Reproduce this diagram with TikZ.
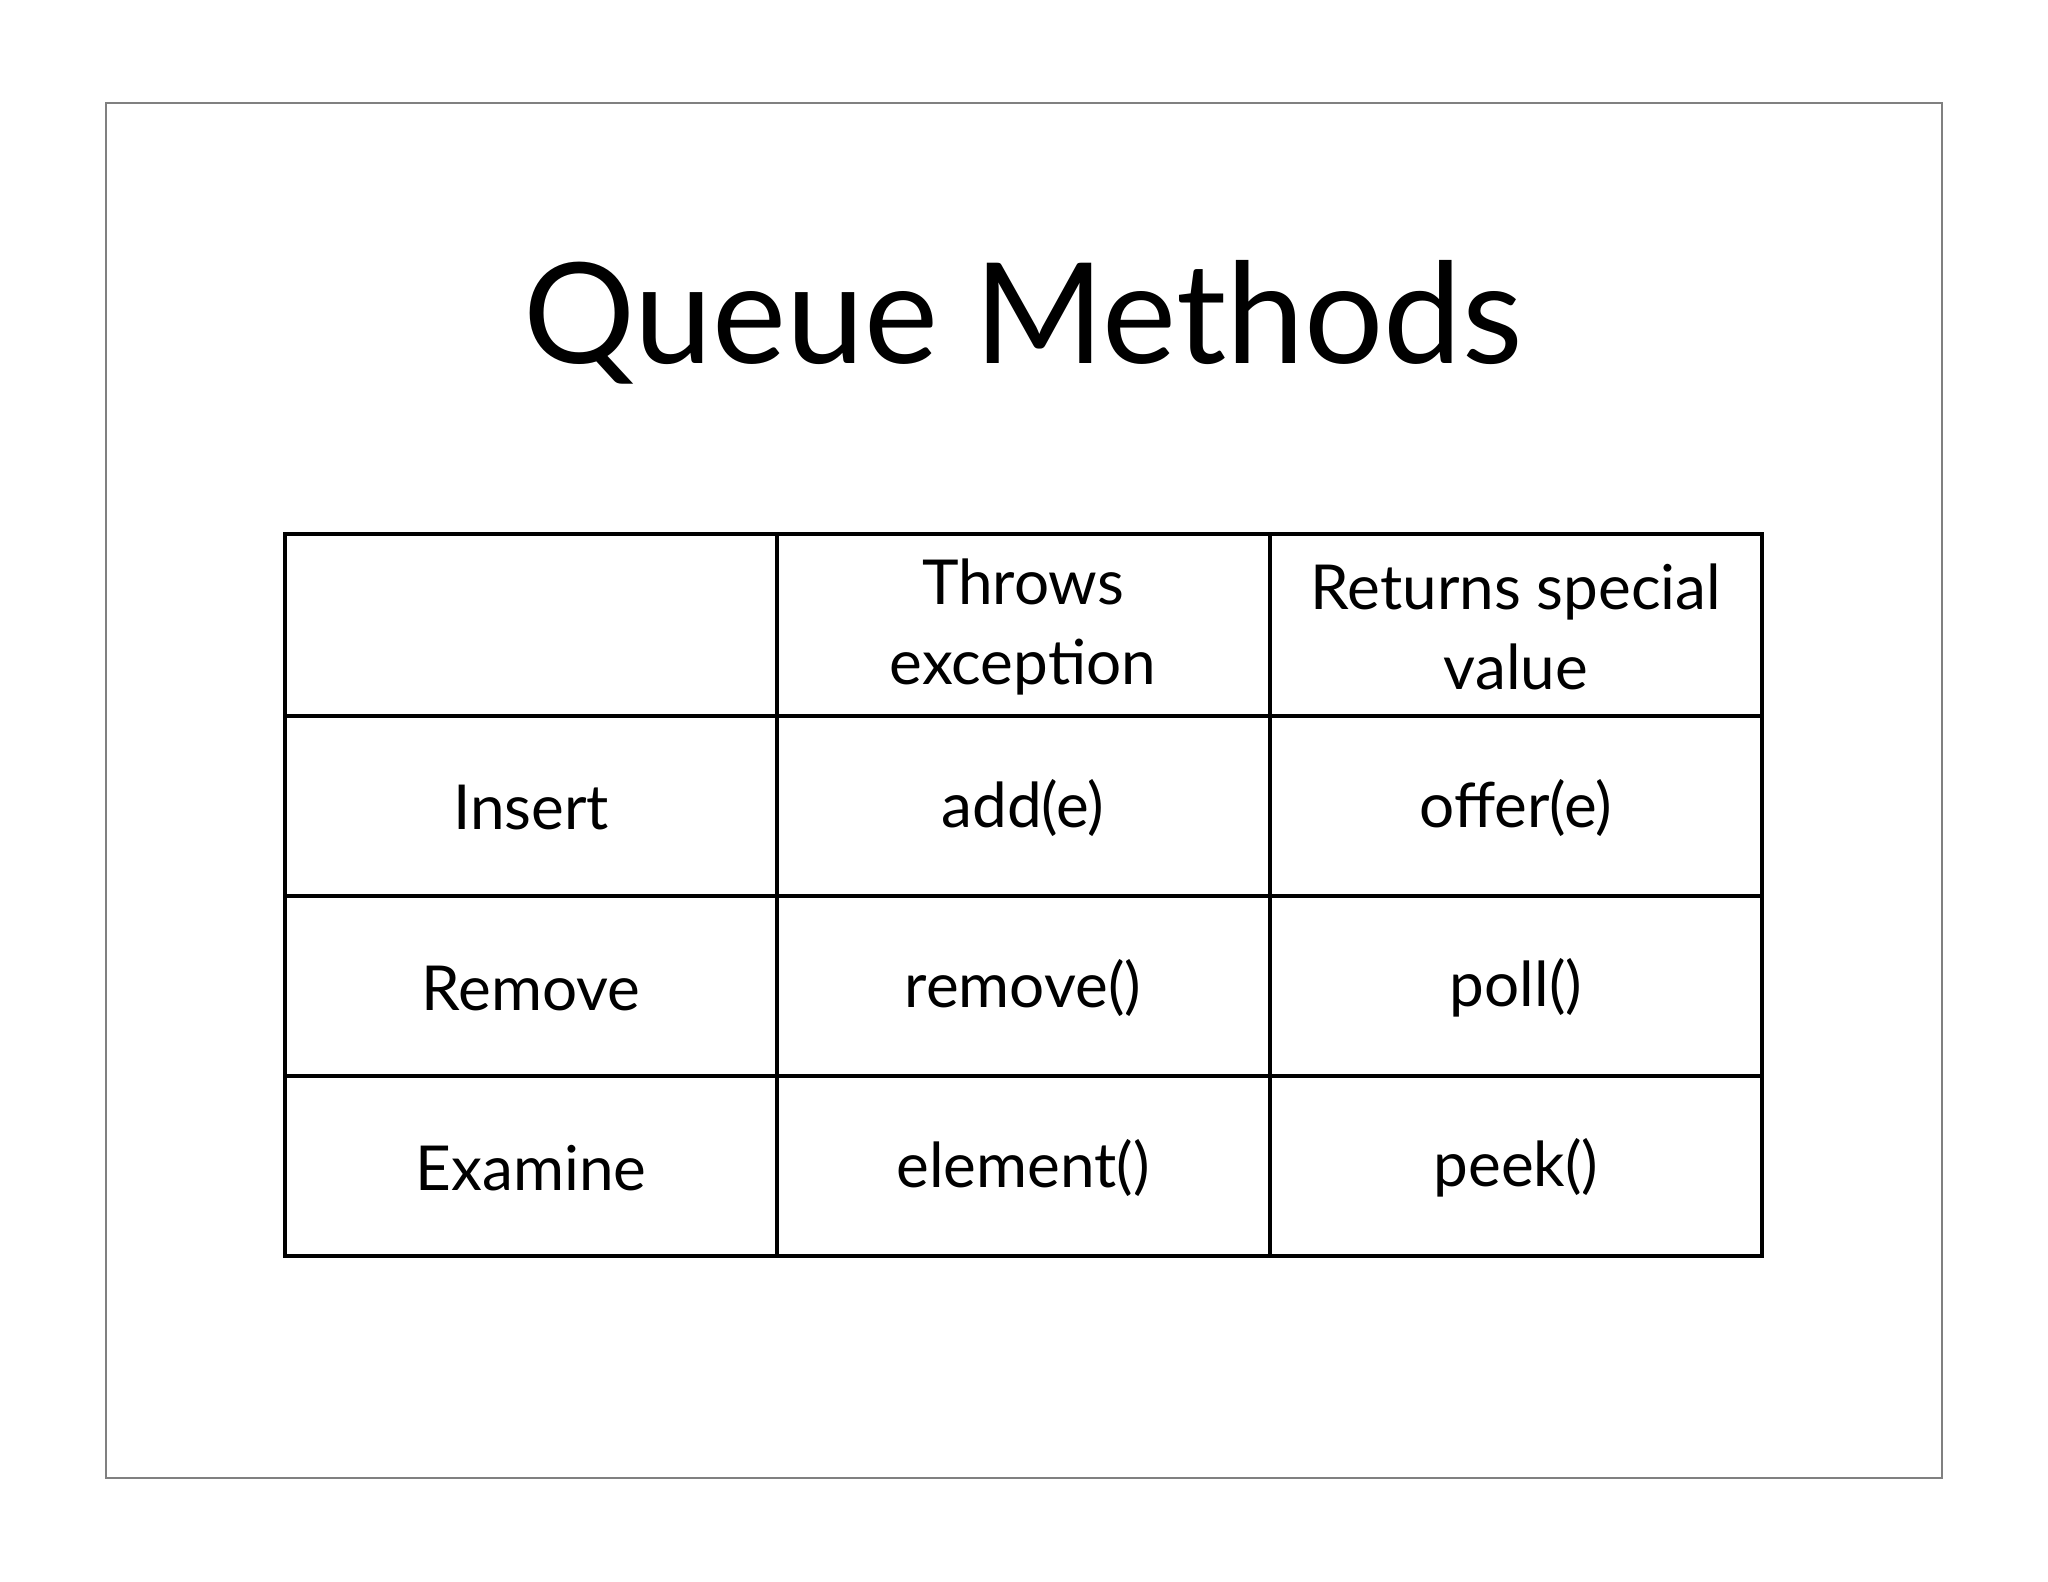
\documentclass[tikz,border=0pt]{standalone}
\usepackage{fontspec}
\setmainfont{Lato}
\begin{document}
\begin{tikzpicture}[x=0.5pt,y=-0.5pt,
  cell/.style={font=\fontsize{31}{40}\selectfont,align=center}]
\useasboundingbox (0,0) rectangle (2048,1582);
\fill[white] (0,0) rectangle (2048,1582);
\draw[gray,line width=0.6pt] (106,103) rectangle (1942,1478);
\node (title) at (1023,322) {\fontsize{70}{80}\selectfont Queue Methods};
\draw[line width=1.6pt] (285,534) rectangle (1762,1256);
\foreach \y in {716,896,1076} \draw[line width=1.6pt] (285,\y) -- (1762,\y);
\foreach \x in {777,1270} \draw[line width=1.6pt] (\x,534) -- (\x,1256);
\node[cell] (h1) at (1023,627) {Throws\\excep\kern0pt tion};
\node[cell] (h2) at (1516,627) {Returns special\\value};
\node[cell] (r1) at (531,808) {Insert};
\node[cell] (r2) at (531,988) {Remove};
\node[cell] (r3) at (531,1168) {Examine};
\node[cell] (a1) at (1023,808) {add(e)};
\node[cell] (a2) at (1023,988) {remove()};
\node[cell] (a3) at (1023,1168) {element()};
\node[cell] (b1) at (1516,808) {offer(e)};
\node[cell] (b2) at (1516,988) {poll()};
\node[cell] (b3) at (1516,1168) {peek()};
\end{tikzpicture}
\end{document}
